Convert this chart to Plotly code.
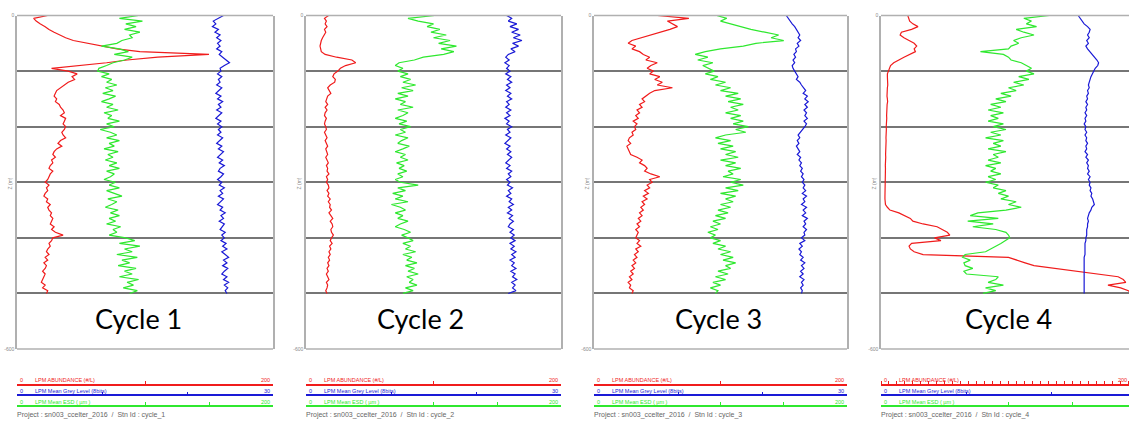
import plotly.graph_objects as go

# ---------------- data ----------------
DEPTH = list(range(0, 505, 5))  # sampling depth (m), 0..500

CYCLES = ["Cycle 1", "Cycle 2", "Cycle 3", "Cycle 4"]
STATIONS = ["cycle_1", "cycle_2", "cycle_3", "cycle_4"]
SERIES_NAMES = ["LPM ABUNDANCE (#/L)", "LPM Mean Grey Level (8bits)", "LPM Mean ESD ( µm )"]
SERIES_MAX = [200, 30, 200]

RED_1 = [24, 13, 15, 18, 22, 25, 29, 33, 38, 44, 55, 68, 78, 96, 150, 110, 86, 70, 48, 27,
         40, 47, 43, 45, 40, 37, 34, 31, 30, 29, 31, 30, 33, 34, 36, 37, 34, 38, 37, 36,
         38, 37, 35, 36, 38, 34, 32, 35, 31, 29, 28, 30, 27, 28, 26, 25, 28, 26, 25, 24,
         22, 25, 23, 24, 22, 21, 24, 23, 26, 24, 25, 27, 26, 28, 27, 26, 29, 27, 30, 36,
         28, 27, 25, 26, 24, 23, 25, 22, 24, 21, 23, 22, 20, 22, 21, 20, 19, 22, 20, 24, 23]
GREEN_1 = [95, 80, 98, 85, 93, 84, 96, 88, 90, 82, 78, 66, 80, 87, 76, 90, 84, 75, 70, 64,
           63, 72, 66, 74, 70, 78, 69, 75, 67, 77, 72, 66, 75, 70, 79, 68, 74, 71, 80, 70,
           76, 65, 73, 78, 70, 80, 72, 76, 68, 79, 71, 75, 69, 78, 72, 80, 70, 76, 73, 68,
           77, 72, 80, 70, 76, 82, 71, 78, 74, 69, 79, 73, 80, 72, 77, 70, 81, 75, 78, 72,
           85, 92, 80, 96, 84, 90, 78, 94, 82, 88, 79, 93, 84, 90, 80, 95, 86, 91, 83, 94, 88]
BLUE_1 = [24.2, 23.5, 23.0, 23.3, 22.9, 23.6, 23.2, 23.8, 23.4, 23.9, 23.5, 23.8, 23.4, 24.0, 23.7,
          24.1, 24.5, 24.9, 24.3, 23.8, 23.9, 23.5, 24.0, 23.6, 23.8, 23.4, 24.0, 23.7, 23.3, 23.9,
          23.5, 24.1, 23.6, 23.9, 23.4, 24.0, 23.7, 23.3, 23.9, 23.5, 24.0, 23.6, 23.9, 23.5, 24.1,
          23.7, 23.4, 24.0, 23.6, 24.2, 23.8, 23.5, 24.1, 23.7, 24.3, 23.8, 23.6, 24.2, 23.9, 23.5,
          24.0, 23.7, 24.3, 23.8, 24.1, 23.6, 24.2, 23.9, 23.5, 24.1, 23.8, 24.4, 23.9, 24.2, 23.7,
          24.3, 24.0, 23.8, 24.4, 24.0, 24.3, 23.9, 24.5, 24.1, 24.6, 24.0, 24.4, 24.8, 24.2, 24.6,
          24.1, 24.7, 24.3, 24.0, 24.6, 24.2, 24.8, 24.3, 24.7, 24.4, 24.6]

RED_2 = [17.7, 14.5, 16, 15, 16.5, 14.5, 15.5, 14, 13, 12, 11.5, 11, 11.5, 12, 15, 24, 36, 39, 31, 27,
         25, 22, 21, 23, 22.5, 19, 17, 18.5, 19.5, 17, 16, 15.5, 17, 15, 16.5, 15, 14.5, 16, 15, 14.5,
         15.5, 16, 14.5, 15.5, 16.5, 15, 16, 17, 15.5, 16.5, 17, 15.5, 16.5, 17.5, 16, 17, 16.5, 18, 16, 17,
         16, 17.5, 18, 16.5, 18, 17, 19, 17.5, 19, 18.5, 20, 18, 19.5, 21, 19, 20.5, 21, 19.5, 20, 21.5,
         20, 19, 20.5, 18.5, 19.5, 18, 19, 17.5, 18.5, 17, 18, 16.5, 17.5, 16, 17, 18, 16, 17, 16.5, 15.5, 16.5]
GREEN_2 = [101, 80, 88, 100, 95, 105, 98, 110, 100, 113, 104, 118, 106, 116, 108, 92, 85, 73, 70, 76,
           72, 80, 74, 82, 76, 86, 75, 84, 72, 80, 70, 78, 74, 84, 72, 80, 76, 70, 79, 73,
           82, 74, 78, 70, 80, 75, 72, 81, 76, 70, 78, 74, 80, 71, 77, 73, 79, 72, 76, 70,
           74, 88, 72, 78, 68, 76, 70, 80, 67, 74, 78, 70, 76, 72, 80, 74, 70, 77, 82, 75,
           80, 84, 76, 82, 78, 86, 76, 83, 79, 87, 78, 85, 80, 88, 79, 84, 81, 87, 78, 84, 76]
BLUE_2 = [23.6, 24.2, 23.8, 24.8, 24.0, 25.0, 24.2, 25.2, 24.4, 25.4, 24.3, 25.0, 24.1, 24.6, 23.8,
          23.5, 23.9, 23.4, 23.9, 23.6, 24.0, 23.5, 24.1, 23.7, 24.2, 23.6, 24.0, 23.5, 24.1, 23.7,
          24.2, 23.6, 23.9, 23.5, 24.1, 23.6, 24.0, 23.4, 23.9, 23.6, 24.2, 23.7, 24.0, 23.5, 24.1,
          23.8, 23.4, 24.0, 23.6, 24.1, 23.7, 24.2, 23.8, 23.5, 24.0, 23.6, 24.2, 23.8, 24.1, 23.6,
          24.0, 23.7, 24.3, 23.8, 24.1, 23.6, 24.2, 23.9, 24.4, 23.8, 24.2, 23.7, 24.3, 23.9, 24.4,
          24.0, 23.8, 24.4, 24.0, 24.5, 24.1, 24.6, 24.0, 24.5, 24.1, 24.7, 24.2, 24.6, 24.0, 24.5,
          24.2, 24.7, 24.1, 24.6, 24.3, 24.8, 24.2, 24.6, 24.3, 24.7, 23.8]

RED_3 = [50, 75, 58, 62, 66, 60, 52, 45, 37, 30, 27, 33, 30, 36, 39, 44, 41, 50, 45, 42,
         47, 44, 52, 48, 54, 50, 62, 48, 44, 41, 38, 40, 36, 38, 34, 36, 33, 35, 31, 34,
         32, 33, 30, 31, 28, 27, 29, 26, 27, 28, 29, 34, 38, 36, 40, 42, 40, 45, 52, 44,
         46, 42, 44, 40, 43, 39, 42, 38, 40, 37, 39, 36, 38, 35, 37, 34, 36, 33, 35, 34,
         33, 36, 34, 37, 33, 35, 32, 34, 31, 33, 30, 32, 29, 31, 28, 30, 27, 29, 28, 31, 30]
GREEN_3 = [97, 105, 100, 108, 118, 124, 135, 146, 140, 150, 128, 118, 100, 88, 80, 90, 82, 94, 86, 90,
           95, 88, 98, 92, 104, 96, 108, 100, 114, 104, 116, 106, 118, 108, 114, 104, 116, 108, 118, 110,
           122, 112, 120, 104, 96, 108, 98, 110, 100, 112, 104, 114, 100, 112, 104, 116, 106, 110, 102, 116,
           108, 118, 104, 114, 100, 112, 104, 110, 100, 108, 98, 106, 96, 104, 94, 100, 92, 98, 90, 96,
           92, 100, 94, 104, 98, 108, 100, 110, 102, 112, 104, 108, 98, 106, 96, 104, 94, 100, 92, 98, 96]
BLUE_3 = [22.8, 23.0, 23.3, 23.5, 23.8, 24.0, 24.3, 24.4, 24.2, 24.5, 24.1, 24.3, 23.9, 24.0, 23.7,
          23.9, 23.6, 23.8, 23.5, 23.6, 23.8, 24.0, 24.2, 24.0, 24.4, 24.6, 24.9, 25.1, 24.8, 25.3,
          25.0, 25.4, 25.0, 25.3, 24.9, 25.2, 25.0, 25.3, 24.9, 25.2, 25.0, 24.7, 24.5, 24.2, 24.4,
          24.1, 24.3, 24.0, 24.2, 24.4, 24.1, 24.5, 24.3, 24.6, 24.4, 24.7, 24.5, 24.8, 24.6, 24.9,
          24.7, 25.0, 24.8, 25.1, 24.7, 25.2, 24.8, 25.0, 24.6, 25.2, 24.8, 25.1, 24.7, 25.3, 24.9,
          25.1, 24.8, 25.2, 24.9, 25.0, 24.6, 25.0, 24.4, 24.7, 24.3, 24.6, 24.4, 24.8, 24.5, 25.0,
          24.6, 24.9, 24.5, 24.8, 24.4, 24.9, 24.6, 24.8, 24.5, 24.7, 24.6]

RED_4 = [21, 22, 22.5, 25, 29, 24, 16, 15, 18, 22, 26, 28, 26, 27, 22, 18, 14, 10, 7.5, 6.5,
         5.5, 5, 5, 5.2, 5, 5.3, 5, 4.8, 5, 4.7, 5, 5.2, 4.8, 4.6, 4.8, 4.5, 4.4, 4.5, 4.2, 4.3,
         4.1, 4.2, 4, 4.1, 3.9, 4, 3.8, 3.9, 3.7, 3.8, 3.6, 3.7, 3.5, 3.6, 3.4, 3.5, 3.4, 3.3, 3.4, 3.2,
         3.3, 3.2, 3.1, 3.2, 3.0, 3.1, 3.1, 3.3, 3.5, 5, 7, 14, 18, 23, 25, 33, 44, 48, 52, 54,
         42, 47, 24, 22, 23, 26, 33, 100, 106, 113, 120, 136, 152, 168, 186, 190, 192, 178, 188, 194, 196]
GREEN_4 = [132, 112, 118, 114, 122, 106, 112, 120, 110, 104, 108, 102, 100, 78, 96, 100, 102, 110, 114, 118,
           114, 120, 108, 116, 104, 112, 100, 106, 94, 102, 90, 98, 86, 94, 84, 96, 86, 92, 84, 96,
           88, 98, 86, 94, 82, 96, 88, 94, 84, 98, 88, 92, 84, 94, 82, 90, 86, 94, 84, 90,
           82, 92, 88, 98, 92, 100, 94, 106, 100, 110, 98, 76, 70, 92, 68, 88, 72, 90, 98, 100,
           101, 98, 94, 90, 86, 82, 66, 64, 70, 65, 66, 72, 65, 67, 92, 90, 84, 96, 82, 90, 80]
BLUE_4 = [23.2, 23.4, 23.7, 23.9, 24.3, 24.6, 24.5, 24.3, 24.5, 24.2, 24.4, 24.1, 24.3, 24.6, 24.9,
          25.1, 25.4, 25.6, 25.5, 25.2, 25.0, 24.9, 24.7, 24.6, 24.5, 24.4, 24.5, 24.3, 24.4, 24.2,
          24.3, 24.1, 24.3, 24.1, 24.2, 24.0, 24.2, 24.0, 24.1, 23.9, 24.1, 24.0, 24.2, 24.0, 24.2,
          24.1, 24.3, 24.1, 24.2, 24.0, 24.3, 24.1, 24.4, 24.2, 24.4, 24.3, 24.5, 24.3, 24.6, 24.4,
          24.6, 24.5, 24.7, 24.6, 24.8, 24.7, 24.9, 25.0, 25.1, 24.8, 24.7, 24.5, 24.4, 24.3, 24.4,
          24.3, 24.3, 24.2, 24.2, 24.2, 24.1, 24.1, 24.0, 24.0, 24.0, 24.0, 24.0, 23.9, 23.9, 23.9,
          23.9, 23.9, 23.9, 23.9, 23.9, 23.9, 23.9, 23.9, 23.9, 23.9, 23.9]

RED = [RED_1, RED_2, RED_3, RED_4]
BLUE = [BLUE_1, BLUE_2, BLUE_3, BLUE_4]
GREEN = [GREEN_1, GREEN_2, GREEN_3, GREEN_4]
for s in RED + BLUE + GREEN:
    assert len(s) == len(DEPTH), len(s)

# ---------------- layout helpers ----------------
W, H = 1129, 423
PANEL_PX = [(17, 273), (306, 561), (594, 847), (881, 1136)]  # full panel extents (last cut by canvas)
TOP_PX, BOT_PX = 12.7, 351
CYCLE_CX = [138, 420, 718, 1008]
LEG_Y = [387, 398, 409]

RED_C, BLUE_C, GREEN_C = "#f01c1c", "#1a1ad6", "#2fe82f"
COLS = [RED_C, BLUE_C, GREEN_C]
BORDER = "#b0b0b0"
GRID = "#767676"
FONT = "Liberation Sans, Arial, sans-serif"


def px(x):
    return x / W


def py(y):
    return (H - y) / H


fig = go.Figure()
layout = dict(
    width=W, height=H,
    margin=dict(l=0, r=0, t=0, b=0),
    paper_bgcolor="white", plot_bgcolor="rgba(0,0,0,0)",
    showlegend=False,
    font=dict(family=FONT),
)
annotations = []
shapes = []
ydom = [py(BOT_PX), py(TOP_PX)]

for p in range(4):
    left, right = PANEL_PX[p]
    vis_right = min(right, W)
    frac = (vis_right - left) / (right - left)
    dom = [px(left), px(vis_right)]
    series = [RED[p], BLUE[p], GREEN[p]]

    for k in range(3):
        a = 3 * p + k + 1
        xname = "xaxis" if a == 1 else f"xaxis{a}"
        yname = "yaxis" if a == 1 else f"yaxis{a}"
        xref = "x" if a == 1 else f"x{a}"
        yref = "y" if a == 1 else f"y{a}"

        if p == 3 and k == 0:
            tickopts = dict(tickmode="linear", tick0=0, dtick=6.25)
        elif k == 0:
            tickopts = dict(tickvals=[100])
        elif k == 1:
            tickopts = dict(tickvals=[10, 20])
        else:
            tickopts = dict(tickvals=[100, 150])

        # x axis of this series = its coloured scale bar below the panel
        layout[xname] = dict(domain=dom, anchor="free", position=py(LEG_Y[k]), side="top",
                             range=[0, SERIES_MAX[k] * frac], showline=True,
                             linecolor=COLS[k], linewidth=1.6, ticks="outside", ticklen=3,
                             tickcolor=COLS[k], tickwidth=1, showticklabels=False,
                             showgrid=False, zeroline=False, fixedrange=True, **tickopts)
        if k == 0:
            layout[yname] = dict(domain=ydom, anchor=xref, range=[-600, 0], showline=True,
                                 linecolor=BORDER, linewidth=1.5, mirror=(p < 3),
                                 tickvals=[0, -600], ticktext=["0", "-600"], ticks="",
                                 tickfont=dict(size=5, color="#8a8a8a"), showgrid=False,
                                 zeroline=False, fixedrange=True,
                                 minor=dict(tickvals=[-100, -200, -300, -400, -500],
                                            showgrid=True, gridcolor=GRID, gridwidth=2,
                                            ticks=""))
            # top / bottom frame of the panel
            for yy in (0, 1):
                shapes.append(dict(type="line", xref=f"{xref} domain", yref=f"{yref} domain",
                                   x0=0, x1=1, y0=yy, y1=yy,
                                   line=dict(color=BORDER, width=1.5), layer="above"))
        else:
            layout[yname] = dict(domain=ydom, anchor=xref, range=[-600, 0], visible=False,
                                 fixedrange=True)

        fig.add_trace(go.Scatter(x=series[k], y=[-d for d in DEPTH], mode="lines",
                                 line=dict(color=COLS[k], width=1.2),
                                 xaxis=xref, yaxis=yref, hoverinfo="skip"))

        # legend-bar labels
        ty = py(LEG_Y[k] - 4.5)
        annotations.append(dict(x=px(left + 1), y=ty, xref="paper", yref="paper", text="0",
                                showarrow=False, xanchor="left", yanchor="middle",
                                font=dict(size=5.5, color=COLS[k], family=FONT)))
        annotations.append(dict(x=px(left + 16), y=ty, xref="paper", yref="paper",
                                text=SERIES_NAMES[k], showarrow=False, xanchor="left",
                                yanchor="middle", font=dict(size=5.5, color=COLS[k], family=FONT)))
        if right <= W:
            annotations.append(dict(x=px(right - 1), y=ty, xref="paper", yref="paper",
                                    text=str(SERIES_MAX[k]), showarrow=False, xanchor="right",
                                    yanchor="middle",
                                    font=dict(size=5.5, color=COLS[k], family=FONT)))
        elif k == 0:
            annotations.append(dict(x=1.0, y=ty, xref="paper", yref="paper",
                                    text=str(SERIES_MAX[k]), showarrow=False, xanchor="right",
                                    yanchor="middle",
                                    font=dict(size=5.5, color=COLS[k], family=FONT)))

    annotations.append(dict(x=px(left - 2), y=py(417.5), xref="paper", yref="paper",
                            text=f"Project : sn003_ccelter_2016  /  Stn Id : {STATIONS[p]}",
                            showarrow=False, xanchor="left", yanchor="middle",
                            font=dict(size=7, color="#666666", family=FONT)))
    annotations.append(dict(x=px(left - 7), y=py(183), xref="paper", yref="paper",
                            text="Z (m)", textangle=-90, showarrow=False, xanchor="center",
                            yanchor="middle", font=dict(size=5, color="#8a8a8a", family=FONT)))
    annotations.append(dict(x=px(CYCLE_CX[p]), y=py(320), xref="paper", yref="paper",
                            text=CYCLES[p], showarrow=False, xanchor="center", yanchor="middle",
                            font=dict(size=27, color="black", family="Lato, Carlito, sans-serif")))

layout["annotations"] = annotations
layout["shapes"] = shapes
fig.update_layout(**layout)
fig.write_html("out.html",
               config={"displayModeBar": False},
               post_script="document.body.style.margin='0';document.body.style.padding='0';"
                           "document.body.style.overflow='hidden';")
